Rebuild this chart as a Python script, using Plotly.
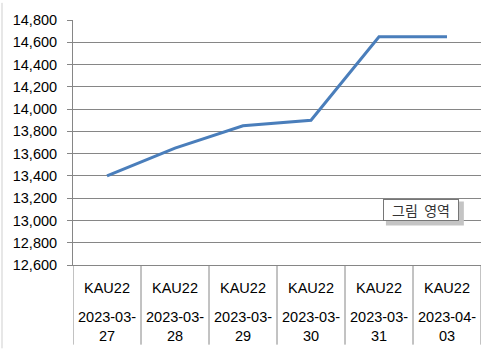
import plotly.graph_objects as go

products = ["KAU22", "KAU22", "KAU22", "KAU22", "KAU22", "KAU22"]
dates = ["2023-03-27", "2023-03-28", "2023-03-29", "2023-03-30", "2023-03-31", "2023-04-03"]
prices = [13400, 13650, 13850, 13900, 14650, 14650]
y_ticks = list(range(12600, 14801, 200))

FONT = "Liberation Sans"
GRID = "#868686"

xpos = [i + 0.5 for i in range(len(dates))]

fig = go.Figure()
fig.add_trace(go.Scatter(
    x=xpos, y=prices, mode="lines",
    line=dict(color="#4a7ebb", width=3),
    hoverinfo="skip", showlegend=False,
))

shapes = []
# category dividers below the plot
for i in range(len(dates) + 1):
    shapes.append(dict(type="line", xref="x", yref="paper", x0=i, x1=i,
                       y0=0, y1=-0.325, line=dict(color=GRID, width=1)))
# left chart border
shapes.append(dict(type="line", xref="paper", yref="paper", x0=-0.174, x1=-0.174,
                   y0=1.07, y1=-0.34, line=dict(color="#cfcfcf", width=1)))
# tooltip shadow
shapes.append(dict(type="rect", xref="paper", yref="paper",
                   x0=0.767, x1=0.958, y0=0.161, y1=0.259,
                   fillcolor="#c4c4c4", line=dict(width=0), layer="above"))

annotations = []
for x, p, d in zip(xpos, products, dates):
    annotations.append(dict(x=x, y=-0.092, xref="x", yref="paper", text=p,
                            showarrow=False, font=dict(family=FONT, size=14.5, color="#000"),
                            xanchor="center", yanchor="middle"))
    annotations.append(dict(x=x, y=-0.253, xref="x", yref="paper",
                            text=d[:8] + "<br>" + d[8:],
                            showarrow=False, font=dict(family=FONT, size=14.5, color="#000"),
                            xanchor="center", yanchor="middle"))
annotations.append(dict(x=0.760, y=0.269, xref="paper", yref="paper", text="그림  영역",
                        showarrow=False, xanchor="left", yanchor="top",
                        width=74, height=20, borderpad=0,
                        bgcolor="white", bordercolor="#767676", borderwidth=1,
                        font=dict(family="Noto Sans CJK KR", size=14, color="#333")))

fig.update_layout(
    width=495, height=355,
    margin=dict(l=73, r=14, t=16, b=90),
    paper_bgcolor="white", plot_bgcolor="white",
    shapes=shapes, annotations=annotations,
    xaxis=dict(range=[0, len(dates)], showgrid=False, showticklabels=False,
               zeroline=False, showline=True, linecolor=GRID, linewidth=1, ticks=""),
    yaxis=dict(range=[12600, 14800], tickvals=y_ticks,
               ticktext=[f"{v:,}" for v in y_ticks],
               showgrid=True, gridcolor=GRID, gridwidth=1, zeroline=False,
               showline=True, linecolor=GRID, linewidth=1,
               ticks="outside", ticklen=5, tickcolor=GRID,
               ticklabelstandoff=7,
               tickfont=dict(family=FONT, size=14.5, color="#000")),
)

fig.write_html("out.html")
